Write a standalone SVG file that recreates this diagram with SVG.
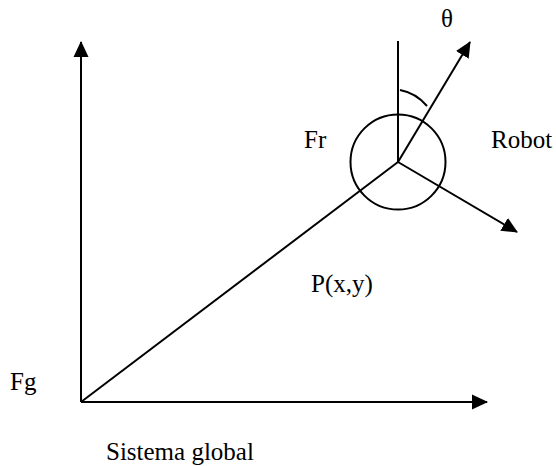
<svg xmlns="http://www.w3.org/2000/svg" width="556" height="466" viewBox="0 0 556 466">
<style>
.ln{stroke:#000;stroke-width:2;fill:none}
.t{font-family:"Liberation Serif","Times New Roman",serif;font-size:25px;fill:#000}
</style>
<defs>
<marker id="ah" markerUnits="userSpaceOnUse" markerWidth="16" markerHeight="16" viewBox="0 0 16 16" refX="15" refY="8" orient="auto">
<path d="M0,0.5 L16,8 L0,15.5 Z" fill="#000"/>
</marker>
</defs>
<rect width="556" height="466" fill="#fff"/>
<g id="connectors">
<line class="ln" x1="81" y1="402" x2="81" y2="42" marker-end="url(#ah)"/>
<line class="ln" x1="81" y1="402" x2="487" y2="402" marker-end="url(#ah)"/>
<line class="ln" x1="81" y1="402" x2="398" y2="162"/>
<line class="ln" x1="398" y1="162" x2="398" y2="41"/>
<line class="ln" x1="398" y1="162" x2="470" y2="42" marker-end="url(#ah)"/>
<line class="ln" x1="398" y1="162" x2="517" y2="232" marker-end="url(#ah)"/>
<path class="ln" d="M400,90 Q416,93 427,106"/>
</g>
<g id="robot">
<circle class="ln" cx="398" cy="162" r="47.5"/>
</g>
<g id="labels">
<text class="t" x="441" y="27">θ</text>
<text class="t" x="304" y="148">Fr</text>
<text class="t" x="491" y="148">Robot</text>
<text class="t" x="311" y="292">P(x,y)</text>
<text class="t" x="10" y="390">Fg</text>
<text class="t" x="106" y="460">Sistema global</text>
</g>
</svg>
